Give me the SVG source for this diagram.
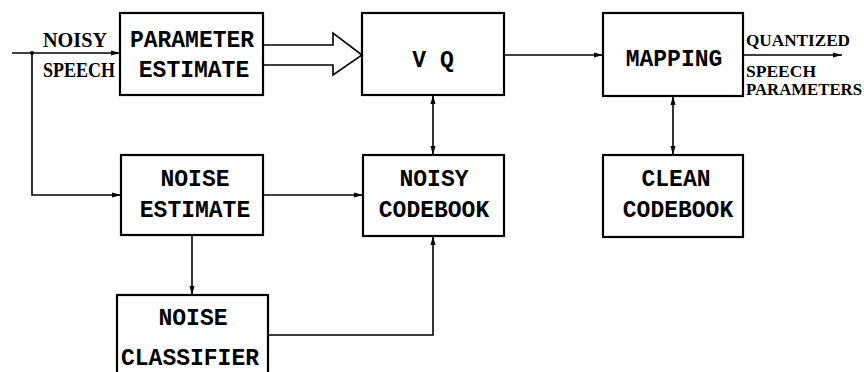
<svg xmlns="http://www.w3.org/2000/svg" width="864" height="372" viewBox="0 0 864 372">
<defs>
<style>
.box{fill:#fff;stroke:#000;stroke-width:2.2}
.ln{fill:none;stroke:#000;stroke-width:1.6}
.t{font-family:"Liberation Mono","Courier New",monospace;font-weight:bold;font-size:23px;fill:#000;text-anchor:middle}
.lb{font-family:"Liberation Serif","Times New Roman",serif;font-weight:bold;font-size:20px;fill:#000}
.lr{font-family:"Liberation Serif","Times New Roman",serif;font-weight:bold;font-size:16px;fill:#000}
</style>
<marker id="ah" viewBox="0 0 9 6" markerWidth="9" markerHeight="6" refX="9" refY="3" orient="auto" markerUnits="userSpaceOnUse">
<path d="M0,0.5 L9,3 L0,5.5 z" fill="#000"/>
</marker>
<marker id="as" viewBox="0 0 9 6" markerWidth="9" markerHeight="6" refX="0" refY="3" orient="auto" markerUnits="userSpaceOnUse">
<path d="M9,0.5 L0,3 L9,5.5 z" fill="#000"/>
</marker>
</defs>
<rect width="864" height="372" fill="#fff"/>
<g id="connectors">
<path class="ln" d="M12,53 H120" marker-end="url(#ah)"/>
<circle cx="32" cy="53" r="2" fill="#000"/>
<path class="ln" d="M32,53 V195 H121" marker-end="url(#ah)"/>
<polyline class="ln" points="263,45 333,45 333,33 362,55 333,75 333,65 263,65" style="fill:#fff"/>
<path class="ln" d="M504,55 H603" marker-end="url(#ah)"/>
<path class="ln" d="M743,55 H842" marker-end="url(#ah)"/>
<path class="ln" d="M433,95 V155" marker-start="url(#as)" marker-end="url(#ah)"/>
<path class="ln" d="M673,96 V155" marker-start="url(#as)" marker-end="url(#ah)"/>
<path class="ln" d="M263,195 H363" marker-end="url(#ah)"/>
<path class="ln" d="M192,235 V295" marker-end="url(#ah)"/>
<path class="ln" d="M268,335 H433 V236" marker-end="url(#ah)"/>
</g>
<g id="labels">
<text class="lb" x="43" y="47" textLength="64" lengthAdjust="spacingAndGlyphs">NOISY</text>
<text class="lb" x="43" y="77" textLength="72" lengthAdjust="spacingAndGlyphs">SPEECH</text>
<text class="lr" x="746" y="46" textLength="104" lengthAdjust="spacingAndGlyphs">QUANTIZED</text>
<text class="lr" x="746" y="77" textLength="70" lengthAdjust="spacingAndGlyphs">SPEECH</text>
<text class="lr" x="746" y="95" textLength="116" lengthAdjust="spacingAndGlyphs">PARAMETERS</text>
</g>
<g id="param-estimate">
<rect class="box" x="120" y="13" width="143" height="82"/>
<text class="t" x="192" y="47">PARAMETER</text>
<text class="t" x="194" y="77">ESTIMATE</text>
</g>
<g id="vq">
<rect class="box" x="362" y="13" width="142" height="82"/>
<text class="t" x="433" y="67">V Q</text>
</g>
<g id="mapping">
<rect class="box" x="603" y="13" width="140" height="83"/>
<text class="t" x="674" y="66">MAPPING</text>
</g>
<g id="noise-estimate">
<rect class="box" x="121" y="155" width="142" height="80"/>
<text class="t" x="195" y="186">NOISE</text>
<text class="t" x="195" y="217">ESTIMATE</text>
</g>
<g id="noisy-codebook">
<rect class="box" x="363" y="155" width="141" height="81"/>
<text class="t" x="434" y="186">NOISY</text>
<text class="t" x="434" y="217">CODEBOOK</text>
</g>
<g id="clean-codebook">
<rect class="box" x="603" y="155" width="140" height="82"/>
<text class="t" x="676" y="186">CLEAN</text>
<text class="t" x="678" y="217">CODEBOOK</text>
</g>
<g id="noise-classifier">
<rect class="box" x="117" y="295" width="151" height="90"/>
<text class="t" x="193" y="325">NOISE</text>
<text class="t" x="190" y="365">CLASSIFIER</text>
</g>
</svg>
